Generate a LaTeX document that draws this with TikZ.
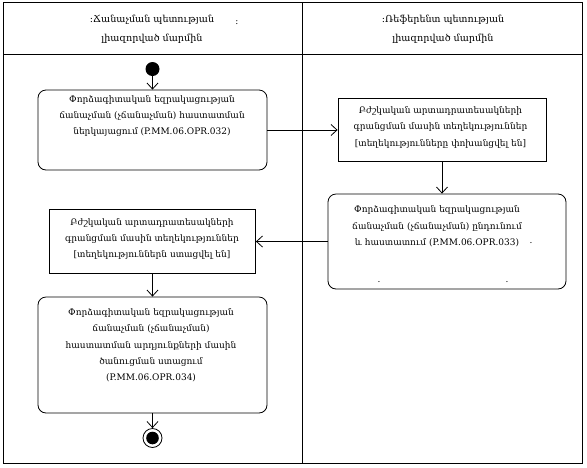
\documentclass[tikz,border=0pt]{standalone}
\usepackage{fontspec}
\setmainfont{DejaVu Serif}
\usetikzlibrary{arrows.meta}
\newcommand{\boxfont}{\fontsize{9}{16.3}\selectfont}
\newcommand{\headfont}{\fontsize{9.6}{19}\selectfont}

\begin{document}
\begin{tikzpicture}[x=1pt, y=-1pt, line width=0.8pt, >={Straight Barb[length=6pt,width=11pt]},
  act/.style={draw, rectangle, rounded corners=8pt, inner sep=0pt},
  obj/.style={draw, rectangle, inner sep=0pt},
  txt/.style={align=center, font=\boxfont, inner sep=0pt}]
  \useasboundingbox (0,0) rectangle (587,467);

  % swimlanes
  \draw (3,2) rectangle (582,463);
  \draw (3,54) -- (582,54);
  \draw (302,2) -- (302,463);
  \node [txt, font=\headfont] (lane1) at (152,29) {:Ճանաչման պետության\\լիազորված մարմին};
  \node [txt, font=\headfont] (lane2) at (443,29) {:Ռեֆերենտ պետության\\լիազորված մարմին};
  \node [txt] (mark1) at (237,23) {:};

  \node [circle, fill, minimum size=14pt, inner sep=0pt] (start) at (152.5,69) {};

  \node [act, minimum width=229pt, minimum height=80pt] (act1) at (152.5,130) {};
  \node [txt] (t1) at (152,116) {Փորձագիտական եզրակացության\\ճանաչման (չճանաչման) հաստատման\\ներկայացում (P.MM.06.OPR.032)};

  \node [obj, minimum width=208pt, minimum height=63pt] (obj1) at (442,130) {};
  \node [txt] (t2) at (440.5,127.5) {Բժշկական արտադրատեսակների\\գրանցման մասին տեղեկություններ\\{[}տեղեկությունները փոխանցվել են{]}};

  \node [act, minimum width=238pt, minimum height=95pt] (act2) at (447,241.5) {};
  \node [txt] (t3) at (437,226.5) {Փորձագիտական եզրակացության\\ճանաչման (չճանաչման) ընդունում\\և հաստատում (P.MM.06.OPR.033)};
  \node [txt] (mark2) at (531,243) {.};
  \node [txt] (mark3) at (379,282) {.};
  \node [txt] (mark4) at (507,282) {.};

  \node [obj, minimum width=206pt, minimum height=64pt] (obj2) at (152.5,241.5) {};
  \node [txt] (t4) at (152,239) {Բժշկական արտադրատեսակների\\գրանցման մասին տեղեկություններ\\{[}տեղեկություններն ստացվել են{]}};

  \node [act, minimum width=229pt, minimum height=116pt] (act3) at (152.5,355) {};
  \node [txt] (t5) at (151,345.5) {Փորձագիտական եզրակացության\\ճանաչման (չճանաչման)\\հաստատման արդյունքների մասին\\ծանուցման ստացում\\(P.MM.06.OPR.034)};

  \node [circle, draw, minimum size=19pt, inner sep=0pt,
    path picture={\fill (path picture bounding box.center) circle (6.3pt);}] (end) at (152.5,438) {};

  \draw [->] (start) -- (act1);
  \draw [->] (act1) -- (obj1);
  \draw [->] (obj1) -- (obj1 |- act2.north);
  \draw [->] (act2) -- (obj2);
  \draw [->] (obj2) -- (act3);
  \draw [->] (act3) -- (end);
\end{tikzpicture}
\end{document}
